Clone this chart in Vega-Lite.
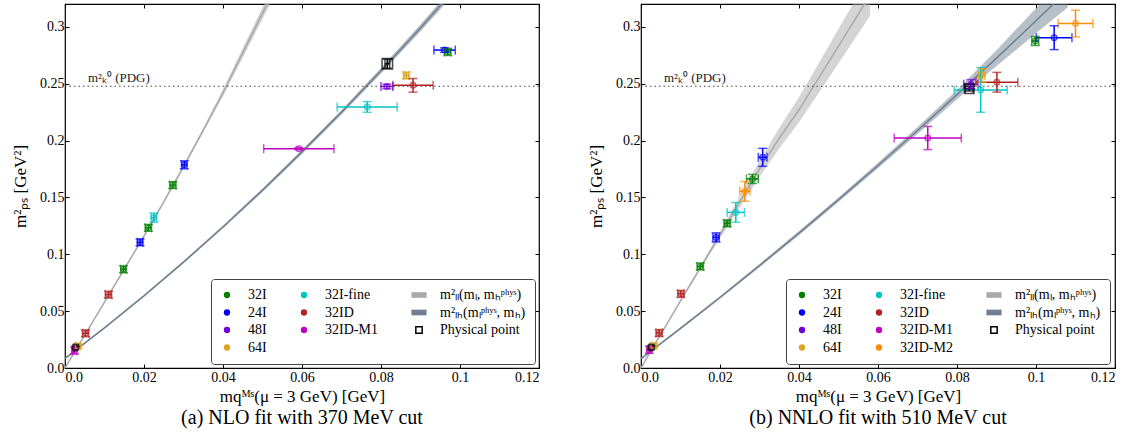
{
"$schema": "https://vega.github.io/schema/vega-lite/v6.json",
"background": "white",
"padding": {"left": 10, "top": 2, "right": 5, "bottom": 5},
"datasets": {
"ptsA": [
{"k":"pp","x":0.0027,"y":0.0182,"xlo":0.0024,"xhi":0.003,"ylo":0.0172,"yhi":0.0192},
{"k":"32ID-M1","x":0.0024,"y":0.0152,"xlo":0.0018,"xhi":0.003,"ylo":0.0122,"yhi":0.0182},
{"k":"64I","x":0.0033,"y":0.0192,"xlo":0.0027,"xhi":0.0039,"ylo":0.0172,"yhi":0.0212},
{"k":"32ID","x":0.0052,"y":0.0305,"xlo":0.0044,"xhi":0.006,"ylo":0.0275,"yhi":0.0335},
{"k":"32ID","x":0.011,"y":0.0645,"xlo":0.0102,"xhi":0.0118,"ylo":0.0615,"yhi":0.0675},
{"k":"32I","x":0.0148,"y":0.0868,"xlo":0.0141,"xhi":0.0155,"ylo":0.0838,"yhi":0.0898},
{"k":"24I","x":0.019,"y":0.1105,"xlo":0.0183,"xhi":0.0197,"ylo":0.1075,"yhi":0.1135},
{"k":"32I","x":0.0211,"y":0.1232,"xlo":0.0203,"xhi":0.0219,"ylo":0.1202,"yhi":0.1262},
{"k":"32I-fine","x":0.0225,"y":0.1322,"xlo":0.0218,"xhi":0.0232,"ylo":0.1282,"yhi":0.1362},
{"k":"32I","x":0.0273,"y":0.1608,"xlo":0.0265,"xhi":0.0281,"ylo":0.1578,"yhi":0.1638},
{"k":"24I","x":0.0302,"y":0.1786,"xlo":0.0295,"xhi":0.0309,"ylo":0.1751,"yhi":0.1821},
{"k":"32ID-M1","x":0.0592,"y":0.1928,"xlo":0.0503,"xhi":0.0681,"ylo":0.1918,"yhi":0.1938},
{"k":"32I-fine","x":0.0765,"y":0.2295,"xlo":0.0689,"xhi":0.0841,"ylo":0.2248,"yhi":0.2342},
{"k":"48I","x":0.0815,"y":0.2475,"xlo":0.08,"xhi":0.083,"ylo":0.2455,"yhi":0.2495},
{"k":"32ID","x":0.0881,"y":0.2485,"xlo":0.083,"xhi":0.0932,"ylo":0.2425,"yhi":0.2545},
{"k":"64I","x":0.0864,"y":0.2572,"xlo":0.0857,"xhi":0.0871,"ylo":0.2542,"yhi":0.2602},
{"k":"24I","x":0.0961,"y":0.2795,"xlo":0.0934,"xhi":0.0988,"ylo":0.2775,"yhi":0.2815},
{"k":"32I","x":0.0969,"y":0.2778,"xlo":0.0961,"xhi":0.0977,"ylo":0.2748,"yhi":0.2808},
{"k":"pp","x":0.0816,"y":0.2675,"xlo":0.081,"xhi":0.0822,"ylo":0.2635,"yhi":0.2715}
],
"ptsB": [
{"k":"pp","x":0.0026,"y":0.0182,"xlo":0.0023,"xhi":0.0029,"ylo":0.0172,"yhi":0.0192},
{"k":"32ID-M1","x":0.0021,"y":0.016,"xlo":0.0015,"xhi":0.0027,"ylo":0.013,"yhi":0.019},
{"k":"64I","x":0.0032,"y":0.0195,"xlo":0.0026,"xhi":0.0038,"ylo":0.0175,"yhi":0.0215},
{"k":"32ID","x":0.0046,"y":0.0308,"xlo":0.0038,"xhi":0.0054,"ylo":0.0278,"yhi":0.0338},
{"k":"32ID","x":0.0101,"y":0.0652,"xlo":0.0093,"xhi":0.0109,"ylo":0.0622,"yhi":0.0682},
{"k":"32I","x":0.015,"y":0.0893,"xlo":0.0142,"xhi":0.0158,"ylo":0.0863,"yhi":0.0923},
{"k":"24I","x":0.019,"y":0.1148,"xlo":0.0182,"xhi":0.0198,"ylo":0.1108,"yhi":0.1188},
{"k":"32I","x":0.0218,"y":0.1272,"xlo":0.021,"xhi":0.0226,"ylo":0.1242,"yhi":0.1302},
{"k":"32I-fine","x":0.024,"y":0.1368,"xlo":0.0218,"xhi":0.0262,"ylo":0.1281,"yhi":0.1455},
{"k":"32ID-M2","x":0.0263,"y":0.1553,"xlo":0.025,"xhi":0.0276,"ylo":0.1466,"yhi":0.164},
{"k":"32I","x":0.0282,"y":0.1662,"xlo":0.0267,"xhi":0.0297,"ylo":0.1622,"yhi":0.1702},
{"k":"24I","x":0.0308,"y":0.1852,"xlo":0.0297,"xhi":0.0319,"ylo":0.1773,"yhi":0.1931},
{"k":"32ID-M1","x":0.0726,"y":0.2022,"xlo":0.0641,"xhi":0.0811,"ylo":0.192,"yhi":0.2124},
{"k":"48I","x":0.0835,"y":0.2495,"xlo":0.0817,"xhi":0.0853,"ylo":0.2455,"yhi":0.2535},
{"k":"32I-fine","x":0.086,"y":0.2445,"xlo":0.0793,"xhi":0.0927,"ylo":0.2248,"yhi":0.2642},
{"k":"64I","x":0.0863,"y":0.2572,"xlo":0.0855,"xhi":0.0871,"ylo":0.2512,"yhi":0.2632},
{"k":"32ID","x":0.0901,"y":0.2512,"xlo":0.0848,"xhi":0.0954,"ylo":0.2425,"yhi":0.2599},
{"k":"32I","x":0.0998,"y":0.2875,"xlo":0.0989,"xhi":0.1007,"ylo":0.2835,"yhi":0.2915},
{"k":"24I","x":0.1046,"y":0.2904,"xlo":0.1001,"xhi":0.1091,"ylo":0.2799,"yhi":0.3009},
{"k":"32ID-M2","x":0.11,"y":0.3028,"xlo":0.1056,"xhi":0.1144,"ylo":0.2911,"yhi":0.3145},
{"k":"pp","x":0.0831,"y":0.2455,"xlo":0.0821,"xhi":0.0841,"ylo":0.2435,"yhi":0.2475}
],
"bandA": [
{"k":"ll","x":0,"y":0,"lo":0,"hi":0},
{"k":"ll","x":0.005,"y":0.029,"lo":0.0285,"hi":0.0295},
{"k":"ll","x":0.01,"y":0.058,"lo":0.0573,"hi":0.0587},
{"k":"ll","x":0.015,"y":0.087,"lo":0.0862,"hi":0.0878},
{"k":"ll","x":0.02,"y":0.116,"lo":0.115,"hi":0.117},
{"k":"ll","x":0.025,"y":0.146,"lo":0.1448,"hi":0.1472},
{"k":"ll","x":0.03,"y":0.177,"lo":0.1755,"hi":0.1785},
{"k":"ll","x":0.035,"y":0.209,"lo":0.207,"hi":0.211},
{"k":"ll","x":0.04,"y":0.242,"lo":0.239,"hi":0.245},
{"k":"ll","x":0.045,"y":0.277,"lo":0.273,"hi":0.281},
{"k":"ll","x":0.05,"y":0.312,"lo":0.307,"hi":0.317},
{"k":"ll","x":0.053,"y":0.333,"lo":0.327,"hi":0.339},
{"k":"lh","x":0,"y":0.0085,"lo":0.0077,"hi":0.0093},
{"k":"lh","x":0.01,"y":0.0353,"lo":0.0345,"hi":0.0361},
{"k":"lh","x":0.02,"y":0.0635,"lo":0.0625,"hi":0.0645},
{"k":"lh","x":0.03,"y":0.0931,"lo":0.0921,"hi":0.0941},
{"k":"lh","x":0.04,"y":0.124,"lo":0.1228,"hi":0.1252},
{"k":"lh","x":0.05,"y":0.1563,"lo":0.1548,"hi":0.1578},
{"k":"lh","x":0.06,"y":0.19,"lo":0.1882,"hi":0.1918},
{"k":"lh","x":0.07,"y":0.2249,"lo":0.2229,"hi":0.2269},
{"k":"lh","x":0.08,"y":0.2613,"lo":0.2588,"hi":0.2638},
{"k":"lh","x":0.09,"y":0.299,"lo":0.296,"hi":0.302},
{"k":"lh","x":0.097,"y":0.3265,"lo":0.323,"hi":0.33}
],
"bandB": [
{"k":"ll","x":0,"y":0,"lo":0,"hi":0},
{"k":"ll","x":0.005,"y":0.0295,"lo":0.029,"hi":0.03},
{"k":"ll","x":0.01,"y":0.059,"lo":0.058,"hi":0.06},
{"k":"ll","x":0.015,"y":0.088,"lo":0.0865,"hi":0.0895},
{"k":"ll","x":0.02,"y":0.117,"lo":0.114,"hi":0.12},
{"k":"ll","x":0.025,"y":0.146,"lo":0.141,"hi":0.151},
{"k":"ll","x":0.03,"y":0.175,"lo":0.168,"hi":0.182},
{"k":"ll","x":0.035,"y":0.202,"lo":0.193,"hi":0.211},
{"k":"ll","x":0.04,"y":0.227,"lo":0.216,"hi":0.238},
{"k":"ll","x":0.045,"y":0.255,"lo":0.242,"hi":0.268},
{"k":"ll","x":0.05,"y":0.283,"lo":0.268,"hi":0.298},
{"k":"ll","x":0.055,"y":0.311,"lo":0.294,"hi":0.328},
{"k":"ll","x":0.058,"y":0.328,"lo":0.31,"hi":0.346},
{"k":"lh","x":0,"y":0.0082,"lo":0.0074,"hi":0.009},
{"k":"lh","x":0.01,"y":0.0348,"lo":0.0338,"hi":0.0358},
{"k":"lh","x":0.02,"y":0.062,"lo":0.0608,"hi":0.0632},
{"k":"lh","x":0.03,"y":0.09,"lo":0.0885,"hi":0.0915},
{"k":"lh","x":0.04,"y":0.1186,"lo":0.1168,"hi":0.1204},
{"k":"lh","x":0.05,"y":0.148,"lo":0.146,"hi":0.15},
{"k":"lh","x":0.06,"y":0.178,"lo":0.1755,"hi":0.1805},
{"k":"lh","x":0.07,"y":0.2088,"lo":0.2058,"hi":0.2118},
{"k":"lh","x":0.08,"y":0.2403,"lo":0.2363,"hi":0.2443},
{"k":"lh","x":0.09,"y":0.2724,"lo":0.2654,"hi":0.2794},
{"k":"lh","x":0.1,"y":0.3053,"lo":0.2943,"hi":0.3163},
{"k":"lh","x":0.108,"y":0.332,"lo":0.317,"hi":0.347}
]
},
"hconcat": [
{
"width": 474, "height": 364,
"title": {"text": "(a) NLO fit with 370 MeV cut", "orient": "bottom", "anchor": "middle", "offset": 4},
"resolve": {"axis": {"x": "independent", "y": "independent"}},
"layer": [
{"data": {"name": "bandA"}, "mark": {"type": "area", "opacity": 0.55, "clip": true},
 "encoding": {
  "x": {"field": "x", "type": "quantitative", "scale": {"domain": [0, 0.12], "nice": false, "zero": false},
        "axis": {"values": [0, 0.02, 0.04, 0.06, 0.08, 0.1, 0.12], "labelExpr": "datum.value == 0 ? '0.0' : format(datum.value, '~g')", "title": "mqᴹˢ(μ = 3 GeV) [GeV]", "tickSize": -4, "labelPadding": 6, "titlePadding": 4}},
  "y": {"field": "lo", "type": "quantitative", "scale": {"domain": [0, 0.32], "nice": false, "zero": false},
        "axis": {"values": [0, 0.05, 0.1, 0.15, 0.2, 0.25, 0.3], "labelExpr": "datum.value == 0 ? '0.0' : format(datum.value, '~g')", "title": "m²ₚₛ [GeV²]", "tickSize": -4, "labelPadding": 5, "titlePadding": 10}},
  "y2": {"field": "hi"},
  "color": {"field": "k", "type": "nominal", "legend": null,
    "scale": {"domain": ["ll","lh","32I","24I","48I","64I","32I-fine","32ID","32ID-M1","pp"], "range": ["#aaaaaa","#708090","#008000","#0000ff","#7000d8","#daa520","#00c4c4","#b22222","#c000c0","#ffffff"]}}
 }},
{"data": {"name": "bandA"}, "mark": {"type": "line", "strokeWidth": 1.5, "clip": true},
 "encoding": {
  "x": {"field": "x", "type": "quantitative", "scale": {"domain": [0, 0.12], "nice": false, "zero": false},
        "axis": {"orient": "top", "values": [0, 0.02, 0.04, 0.06, 0.08, 0.1, 0.12], "labels": false, "title": null, "tickSize": -4}},
  "y": {"field": "y", "type": "quantitative", "scale": {"domain": [0, 0.32], "nice": false, "zero": false},
        "axis": {"orient": "right", "values": [0, 0.05, 0.1, 0.15, 0.2, 0.25, 0.3], "labels": false, "title": null, "tickSize": -4}},
  "color": {"field": "k", "type": "nominal", "legend": null}
 }},
{"data": {"values": [{}]}, "mark": {"type": "rule", "strokeDash": [1.5, 3], "color": "#444444", "strokeWidth": 1.2},
 "encoding": {"y": {"datum": 0.2477, "type": "quantitative", "scale": {"domain": [0, 0.32], "nice": false, "zero": false}, "axis": null}}},
{"data": {"values": [{}]}, "mark": {"type": "text", "text": "m²ₖ⁰ (PDG)", "align": "left", "baseline": "alphabetic", "font": "Liberation Serif", "fontSize": 13, "color": "#222222"},
 "encoding": {"x": {"datum": 0.0058, "type": "quantitative", "scale": {"domain": [0, 0.12], "nice": false, "zero": false}, "axis": null},
              "y": {"datum": 0.2515, "type": "quantitative", "scale": {"domain": [0, 0.32], "nice": false, "zero": false}, "axis": null}}},
{"data": {"name": "ptsA"}, "mark": {"type": "rule", "strokeWidth": 1.5},
 "encoding": {"x": {"field": "xlo", "type": "quantitative", "scale": {"domain": [0, 0.12], "nice": false, "zero": false}, "axis": null}, "x2": {"field": "xhi"},
   "y": {"field": "y", "type": "quantitative", "scale": {"domain": [0, 0.32], "nice": false, "zero": false}, "axis": null},
   "color": {"field": "k", "type": "nominal", "legend": null, "condition": {"test": "datum.k === 'pp'", "value": "black"}}}},
{"data": {"name": "ptsA"}, "mark": {"type": "rule", "strokeWidth": 1.5},
 "encoding": {"x": {"field": "x", "type": "quantitative", "scale": {"domain": [0, 0.12], "nice": false, "zero": false}, "axis": null},
   "y": {"field": "ylo", "type": "quantitative", "scale": {"domain": [0, 0.32], "nice": false, "zero": false}, "axis": null}, "y2": {"field": "yhi"},
   "color": {"field": "k", "type": "nominal", "legend": null, "condition": {"test": "datum.k === 'pp'", "value": "black"}}}},
{"data": {"name": "ptsA"}, "mark": {"type": "tick", "orient": "vertical", "size": 9, "thickness": 1.5},
 "encoding": {"x": {"field": "xlo", "type": "quantitative", "scale": {"domain": [0, 0.12], "nice": false, "zero": false}, "axis": null},
   "y": {"field": "y", "type": "quantitative", "scale": {"domain": [0, 0.32], "nice": false, "zero": false}, "axis": null},
   "color": {"field": "k", "type": "nominal", "legend": null, "condition": {"test": "datum.k === 'pp'", "value": "black"}}}},
{"data": {"name": "ptsA"}, "mark": {"type": "tick", "orient": "vertical", "size": 9, "thickness": 1.5},
 "encoding": {"x": {"field": "xhi", "type": "quantitative", "scale": {"domain": [0, 0.12], "nice": false, "zero": false}, "axis": null},
   "y": {"field": "y", "type": "quantitative", "scale": {"domain": [0, 0.32], "nice": false, "zero": false}, "axis": null},
   "color": {"field": "k", "type": "nominal", "legend": null, "condition": {"test": "datum.k === 'pp'", "value": "black"}}}},
{"data": {"name": "ptsA"}, "mark": {"type": "tick", "orient": "horizontal", "size": 9, "thickness": 1.5},
 "encoding": {"x": {"field": "x", "type": "quantitative", "scale": {"domain": [0, 0.12], "nice": false, "zero": false}, "axis": null},
   "y": {"field": "ylo", "type": "quantitative", "scale": {"domain": [0, 0.32], "nice": false, "zero": false}, "axis": null},
   "color": {"field": "k", "type": "nominal", "legend": null, "condition": {"test": "datum.k === 'pp'", "value": "black"}}}},
{"data": {"name": "ptsA"}, "mark": {"type": "tick", "orient": "horizontal", "size": 9, "thickness": 1.5},
 "encoding": {"x": {"field": "x", "type": "quantitative", "scale": {"domain": [0, 0.12], "nice": false, "zero": false}, "axis": null},
   "y": {"field": "yhi", "type": "quantitative", "scale": {"domain": [0, 0.32], "nice": false, "zero": false}, "axis": null},
   "color": {"field": "k", "type": "nominal", "legend": null, "condition": {"test": "datum.k === 'pp'", "value": "black"}}}},
{"data": {"name": "ptsA"}, "transform": [{"filter": "datum.k !== 'pp'"}], "mark": {"type": "point", "shape": "circle", "filled": false, "size": 30, "strokeWidth": 1.5},
 "encoding": {"x": {"field": "x", "type": "quantitative", "scale": {"domain": [0, 0.12], "nice": false, "zero": false}, "axis": null},
   "y": {"field": "y", "type": "quantitative", "scale": {"domain": [0, 0.32], "nice": false, "zero": false}, "axis": null},
   "color": {"field": "k", "type": "nominal", "legend": null}}},
{"data": {"name": "ptsA"}, "transform": [{"filter": "datum.k === 'pp'"}], "mark": {"type": "point", "shape": "square", "filled": false, "strokeWidth": 1.5, "color": "black"},
 "encoding": {"x": {"field": "x", "type": "quantitative", "scale": {"domain": [0, 0.12], "nice": false, "zero": false}, "axis": null},
   "y": {"field": "y", "type": "quantitative", "scale": {"domain": [0, 0.32], "nice": false, "zero": false}, "axis": null},
   "size": {"condition": {"test": "datum.y < 0.1", "value": 30}, "value": 110}}},
{"data": {"name": "ptsA"}, "transform": [{"filter": "datum.k === 'legend-only'"}], "mark": {"type": "point", "filled": true, "opacity": 1},
 "encoding": {"x": {"field": "x", "type": "quantitative", "scale": {"domain": [0, 0.12], "nice": false, "zero": false}, "axis": null},
   "y": {"field": "y", "type": "quantitative", "scale": {"domain": [0, 0.32], "nice": false, "zero": false}, "axis": null},
   "fill": {"field": "k", "type": "nominal",
     "scale": {"domain": ["32I","32I-fine","ll","24I","32ID","lh","48I","32ID-M1","pp","64I"], "range": ["#008000","#00c4c4","#aaaaaa","#0000ff","#b22222","#708090","#7000d8","#c000c0","#ffffff","#daa520"]},
     "legend": {"orient": "none", "legendX": 146, "legendY": 275, "columns": 3, "direction": "horizontal", "title": null,
       "symbolOpacity": 1, "symbolStrokeWidth": 1.5,
       "labelFont": "Liberation Serif", "labelFontSize": 14, "labelOffset": 14, "columnPadding": 30, "rowPadding": 3.5, "padding": 9,
       "strokeColor": "#444444", "fillColor": "white", "cornerRadius": 3,
       "labelExpr": "datum.value === 'll' ? 'm²ₗₗ(mₗ, mₕᵖʰʸˢ)' : datum.value === 'lh' ? 'm²ₗₕ(mₗᵖʰʸˢ, mₕ)' : datum.value === 'pp' ? 'Physical point' : datum.label"}},
   "stroke": {"field": "k", "type": "nominal",
     "scale": {"domain": ["32I","32I-fine","ll","24I","32ID","lh","48I","32ID-M1","pp","64I"], "range": ["transparent","transparent","transparent","transparent","transparent","transparent","transparent","transparent","#000000","transparent"]},
     "legend": {"orient": "none", "legendX": 146, "legendY": 275, "title": null, "symbolOpacity": 1}},
   "shape": {"field": "k", "type": "nominal",
     "scale": {"domain": ["32I","32I-fine","ll","24I","32ID","lh","48I","32ID-M1","pp","64I"], "range": ["circle","circle","M-2.4,-0.9H2.4V0.9H-2.4Z","circle","circle","M-2.4,-0.9H2.4V0.9H-2.4Z","circle","circle","square","circle"]},
     "legend": {"orient": "none", "legendX": 146, "legendY": 275, "title": null, "symbolOpacity": 1}},
   "size": {"field": "k", "type": "ordinal",
     "scale": {"domain": ["32I","32I-fine","ll","24I","32ID","lh","48I","32ID-M1","pp","64I"], "range": [40,40,121,40,40,121,40,40,64,40]},
     "legend": {"orient": "none", "legendX": 146, "legendY": 275, "title": null, "symbolOpacity": 1}}
 }}
]
},
{
"width": 474, "height": 364,
"title": {"text": "(b) NNLO fit with 510 MeV cut", "orient": "bottom", "anchor": "middle", "offset": 4},
"resolve": {"axis": {"x": "independent", "y": "independent"}},
"layer": [
{"data": {"name": "bandB"}, "mark": {"type": "area", "opacity": 0.5, "clip": true},
 "encoding": {
  "x": {"field": "x", "type": "quantitative", "scale": {"domain": [0, 0.12], "nice": false, "zero": false},
        "axis": {"values": [0, 0.02, 0.04, 0.06, 0.08, 0.1, 0.12], "labelExpr": "datum.value == 0 ? '0.0' : format(datum.value, '~g')", "title": "mqᴹˢ(μ = 3 GeV) [GeV]", "tickSize": -4, "labelPadding": 6, "titlePadding": 4}},
  "y": {"field": "lo", "type": "quantitative", "scale": {"domain": [0, 0.32], "nice": false, "zero": false},
        "axis": {"values": [0, 0.05, 0.1, 0.15, 0.2, 0.25, 0.3], "labelExpr": "datum.value == 0 ? '0.0' : format(datum.value, '~g')", "title": "m²ₚₛ [GeV²]", "tickSize": -4, "labelPadding": 5, "titlePadding": 10}},
  "y2": {"field": "hi"},
  "color": {"field": "k", "type": "nominal", "legend": null,
    "scale": {"domain": ["ll","lh","32I","24I","48I","64I","32I-fine","32ID","32ID-M1","32ID-M2","pp"], "range": ["#aaaaaa","#708090","#008000","#0000ff","#7000d8","#daa520","#00c4c4","#b22222","#c000c0","#ff8c00","#ffffff"]}}
 }},
{"data": {"name": "bandB"}, "mark": {"type": "line", "strokeWidth": 1.5, "clip": true},
 "encoding": {
  "x": {"field": "x", "type": "quantitative", "scale": {"domain": [0, 0.12], "nice": false, "zero": false},
        "axis": {"orient": "top", "values": [0, 0.02, 0.04, 0.06, 0.08, 0.1, 0.12], "labels": false, "title": null, "tickSize": -4}},
  "y": {"field": "y", "type": "quantitative", "scale": {"domain": [0, 0.32], "nice": false, "zero": false},
        "axis": {"orient": "right", "values": [0, 0.05, 0.1, 0.15, 0.2, 0.25, 0.3], "labels": false, "title": null, "tickSize": -4}},
  "color": {"field": "k", "type": "nominal", "legend": null}
 }},
{"data": {"values": [{}]}, "mark": {"type": "rule", "strokeDash": [1.5, 3], "color": "#444444", "strokeWidth": 1.2},
 "encoding": {"y": {"datum": 0.2477, "type": "quantitative", "scale": {"domain": [0, 0.32], "nice": false, "zero": false}, "axis": null}}},
{"data": {"values": [{}]}, "mark": {"type": "text", "text": "m²ₖ⁰ (PDG)", "align": "left", "baseline": "alphabetic", "font": "Liberation Serif", "fontSize": 13, "color": "#222222"},
 "encoding": {"x": {"datum": 0.0058, "type": "quantitative", "scale": {"domain": [0, 0.12], "nice": false, "zero": false}, "axis": null},
              "y": {"datum": 0.2515, "type": "quantitative", "scale": {"domain": [0, 0.32], "nice": false, "zero": false}, "axis": null}}},
{"data": {"name": "ptsB"}, "mark": {"type": "rule", "strokeWidth": 1.5},
 "encoding": {"x": {"field": "xlo", "type": "quantitative", "scale": {"domain": [0, 0.12], "nice": false, "zero": false}, "axis": null}, "x2": {"field": "xhi"},
   "y": {"field": "y", "type": "quantitative", "scale": {"domain": [0, 0.32], "nice": false, "zero": false}, "axis": null},
   "color": {"field": "k", "type": "nominal", "legend": null, "condition": {"test": "datum.k === 'pp'", "value": "black"}}}},
{"data": {"name": "ptsB"}, "mark": {"type": "rule", "strokeWidth": 1.5},
 "encoding": {"x": {"field": "x", "type": "quantitative", "scale": {"domain": [0, 0.12], "nice": false, "zero": false}, "axis": null},
   "y": {"field": "ylo", "type": "quantitative", "scale": {"domain": [0, 0.32], "nice": false, "zero": false}, "axis": null}, "y2": {"field": "yhi"},
   "color": {"field": "k", "type": "nominal", "legend": null, "condition": {"test": "datum.k === 'pp'", "value": "black"}}}},
{"data": {"name": "ptsB"}, "mark": {"type": "tick", "orient": "vertical", "size": 9, "thickness": 1.5},
 "encoding": {"x": {"field": "xlo", "type": "quantitative", "scale": {"domain": [0, 0.12], "nice": false, "zero": false}, "axis": null},
   "y": {"field": "y", "type": "quantitative", "scale": {"domain": [0, 0.32], "nice": false, "zero": false}, "axis": null},
   "color": {"field": "k", "type": "nominal", "legend": null, "condition": {"test": "datum.k === 'pp'", "value": "black"}}}},
{"data": {"name": "ptsB"}, "mark": {"type": "tick", "orient": "vertical", "size": 9, "thickness": 1.5},
 "encoding": {"x": {"field": "xhi", "type": "quantitative", "scale": {"domain": [0, 0.12], "nice": false, "zero": false}, "axis": null},
   "y": {"field": "y", "type": "quantitative", "scale": {"domain": [0, 0.32], "nice": false, "zero": false}, "axis": null},
   "color": {"field": "k", "type": "nominal", "legend": null, "condition": {"test": "datum.k === 'pp'", "value": "black"}}}},
{"data": {"name": "ptsB"}, "mark": {"type": "tick", "orient": "horizontal", "size": 9, "thickness": 1.5},
 "encoding": {"x": {"field": "x", "type": "quantitative", "scale": {"domain": [0, 0.12], "nice": false, "zero": false}, "axis": null},
   "y": {"field": "ylo", "type": "quantitative", "scale": {"domain": [0, 0.32], "nice": false, "zero": false}, "axis": null},
   "color": {"field": "k", "type": "nominal", "legend": null, "condition": {"test": "datum.k === 'pp'", "value": "black"}}}},
{"data": {"name": "ptsB"}, "mark": {"type": "tick", "orient": "horizontal", "size": 9, "thickness": 1.5},
 "encoding": {"x": {"field": "x", "type": "quantitative", "scale": {"domain": [0, 0.12], "nice": false, "zero": false}, "axis": null},
   "y": {"field": "yhi", "type": "quantitative", "scale": {"domain": [0, 0.32], "nice": false, "zero": false}, "axis": null},
   "color": {"field": "k", "type": "nominal", "legend": null, "condition": {"test": "datum.k === 'pp'", "value": "black"}}}},
{"data": {"name": "ptsB"}, "transform": [{"filter": "datum.k !== 'pp'"}], "mark": {"type": "point", "shape": "circle", "filled": false, "size": 30, "strokeWidth": 1.5},
 "encoding": {"x": {"field": "x", "type": "quantitative", "scale": {"domain": [0, 0.12], "nice": false, "zero": false}, "axis": null},
   "y": {"field": "y", "type": "quantitative", "scale": {"domain": [0, 0.32], "nice": false, "zero": false}, "axis": null},
   "color": {"field": "k", "type": "nominal", "legend": null}}},
{"data": {"name": "ptsB"}, "transform": [{"filter": "datum.k === 'pp'"}], "mark": {"type": "point", "shape": "square", "filled": false, "strokeWidth": 1.5, "color": "black"},
 "encoding": {"x": {"field": "x", "type": "quantitative", "scale": {"domain": [0, 0.12], "nice": false, "zero": false}, "axis": null},
   "y": {"field": "y", "type": "quantitative", "scale": {"domain": [0, 0.32], "nice": false, "zero": false}, "axis": null},
   "size": {"condition": {"test": "datum.y < 0.1", "value": 30}, "value": 90}}},
{"data": {"name": "ptsB"}, "transform": [{"filter": "datum.k === 'legend-only'"}], "mark": {"type": "point", "filled": true, "opacity": 1},
 "encoding": {"x": {"field": "x", "type": "quantitative", "scale": {"domain": [0, 0.12], "nice": false, "zero": false}, "axis": null},
   "y": {"field": "y", "type": "quantitative", "scale": {"domain": [0, 0.32], "nice": false, "zero": false}, "axis": null},
   "fill": {"field": "k", "type": "nominal",
     "scale": {"domain": ["32I","32I-fine","ll","24I","32ID","lh","48I","32ID-M1","pp","64I","32ID-M2"], "range": ["#008000","#00c4c4","#aaaaaa","#0000ff","#b22222","#708090","#7000d8","#c000c0","#ffffff","#daa520","#ff8c00"]},
     "legend": {"orient": "none", "legendX": 145, "legendY": 275, "columns": 3, "direction": "horizontal", "title": null,
       "symbolOpacity": 1, "symbolStrokeWidth": 1.5,
       "labelFont": "Liberation Serif", "labelFontSize": 14, "labelOffset": 14, "columnPadding": 30, "rowPadding": 3.5, "padding": 9,
       "strokeColor": "#444444", "fillColor": "white", "cornerRadius": 3,
       "labelExpr": "datum.value === 'll' ? 'm²ₗₗ(mₗ, mₕᵖʰʸˢ)' : datum.value === 'lh' ? 'm²ₗₕ(mₗᵖʰʸˢ, mₕ)' : datum.value === 'pp' ? 'Physical point' : datum.label"}},
   "stroke": {"field": "k", "type": "nominal",
     "scale": {"domain": ["32I","32I-fine","ll","24I","32ID","lh","48I","32ID-M1","pp","64I","32ID-M2"], "range": ["transparent","transparent","transparent","transparent","transparent","transparent","transparent","transparent","#000000","transparent","transparent"]},
     "legend": {"orient": "none", "legendX": 145, "legendY": 275, "title": null, "symbolOpacity": 1}},
   "shape": {"field": "k", "type": "nominal",
     "scale": {"domain": ["32I","32I-fine","ll","24I","32ID","lh","48I","32ID-M1","pp","64I","32ID-M2"], "range": ["circle","circle","M-2.4,-0.9H2.4V0.9H-2.4Z","circle","circle","M-2.4,-0.9H2.4V0.9H-2.4Z","circle","circle","square","circle","circle"]},
     "legend": {"orient": "none", "legendX": 145, "legendY": 275, "title": null, "symbolOpacity": 1}},
   "size": {"field": "k", "type": "ordinal",
     "scale": {"domain": ["32I","32I-fine","ll","24I","32ID","lh","48I","32ID-M1","pp","64I","32ID-M2"], "range": [40,40,121,40,40,121,40,40,64,40,40]},
     "legend": {"orient": "none", "legendX": 145, "legendY": 275, "title": null, "symbolOpacity": 1}}
 }}
]
}
],
"spacing": 102,
"bounds": "flush",
"resolve": {"scale": {"color": "independent", "fill": "independent", "stroke": "independent", "shape": "independent", "size": "independent"}, "legend": {"color": "independent", "fill": "independent", "stroke": "independent", "shape": "independent", "size": "independent"}},
"config": {
 "view": {"stroke": "black", "strokeWidth": 1.2},
 "font": "Liberation Serif",
 "axis": {"labelFont": "Liberation Serif", "labelFontSize": 14, "labelColor": "black", "titleFont": "Liberation Serif", "titleFontSize": 17, "titleFontWeight": "normal", "titleColor": "black", "tickColor": "black", "tickWidth": 1, "grid": false, "domain": false},
 "title": {"font": "Liberation Serif", "fontSize": 20, "fontWeight": "normal", "color": "black"}
}
}
